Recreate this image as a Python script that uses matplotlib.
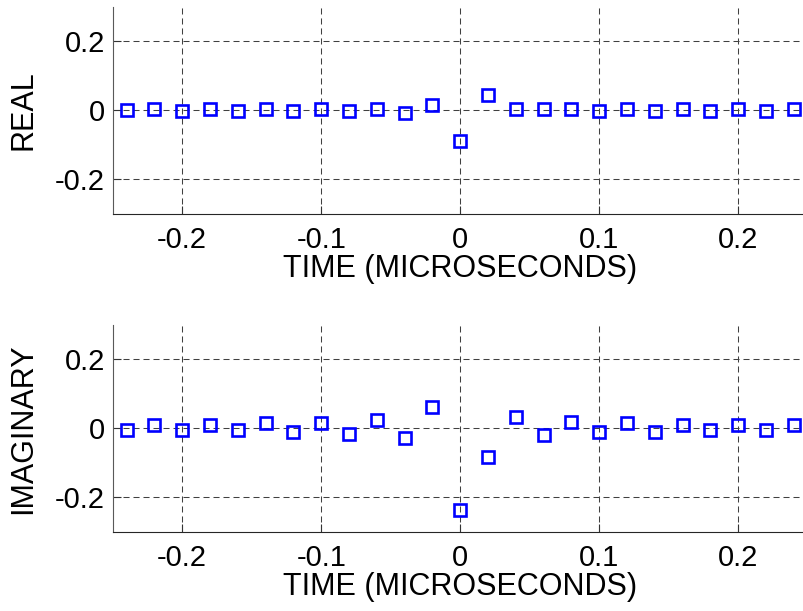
import numpy as np
import matplotlib
matplotlib.use("Agg")
from matplotlib import pyplot as plt

# sample times (microseconds)
t = [-0.24, -0.22, -0.20, -0.18, -0.16, -0.14, -0.12, -0.10, -0.08, -0.06, -0.04, -0.02,
     0.00, 0.02, 0.04, 0.06, 0.08, 0.10, 0.12, 0.14, 0.16, 0.18, 0.20, 0.22, 0.24]

# real part of the response
re_part = [0.000, 0.005, -0.001, 0.005, -0.001, 0.005, -0.002, 0.004, -0.001, 0.003, -0.006, 0.016,
           -0.088, 0.044, 0.004, 0.004, 0.004, -0.002, 0.004, -0.001, 0.004, -0.002, 0.004, -0.001, 0.004]

# imaginary part of the response
im_part = [-0.005, 0.010, -0.005, 0.010, -0.005, 0.015, -0.010, 0.015, -0.015, 0.024, -0.029, 0.061,
           -0.236, -0.083, 0.033, -0.018, 0.020, -0.010, 0.015, -0.010, 0.010, -0.005, 0.010, -0.005, 0.010]

xticks = [-0.2, -0.1, 0, 0.1, 0.2]
yticks = [-0.2, 0, 0.2]

plt.rcParams['font.family'] = ['Liberation Sans', 'DejaVu Sans']

fig = plt.figure(figsize=(8.04, 6.11), dpi=100)
ax1 = fig.add_axes([0.1402, 0.6498, 0.8644, 0.3388])
ax2 = fig.add_axes([0.1402, 0.1293, 0.8644, 0.3388])

def draw_panel(ax, y, ylab):
    ax.plot(t, y, 's', markerfacecolor='none', markeredgecolor='#0000ff',
            markersize=8.8, markeredgewidth=1.9, zorder=3)
    ax.set_xlim(-0.25, 0.25)
    ax.set_ylim(-0.3, 0.3)
    ax.set_xticks(xticks)
    ax.set_yticks(yticks)
    ax.set_xticklabels(['-0.2', '-0.1', '0', '0.1', '0.2'])
    ax.set_yticklabels(['-0.2', '0', '0.2'])
    ax.grid(True, color='0.25', linewidth=0.75, linestyle=(0, (5.8, 3.8)), zorder=0)
    ax.spines['top'].set_visible(False)
    ax.spines['right'].set_visible(False)
    ax.spines['left'].set_color('0.35')
    ax.spines['bottom'].set_color('0.15')
    ax.spines['left'].set_linewidth(0.8)
    ax.spines['bottom'].set_linewidth(0.8)
    ax.tick_params(direction='in', length=5.8, width=0.8, color='0.2',
                   labelsize=21, pad=9)
    ax.tick_params(axis='y', pad=5.5)
    ax.set_xlabel('TIME (MICROSECONDS)', fontsize=22, labelpad=0)
    ax.set_ylabel(ylab, fontsize=22, labelpad=12)

draw_panel(ax1, re_part, 'REAL')
draw_panel(ax2, im_part, 'IMAGINARY')

fig.savefig('out.png', dpi=100)
